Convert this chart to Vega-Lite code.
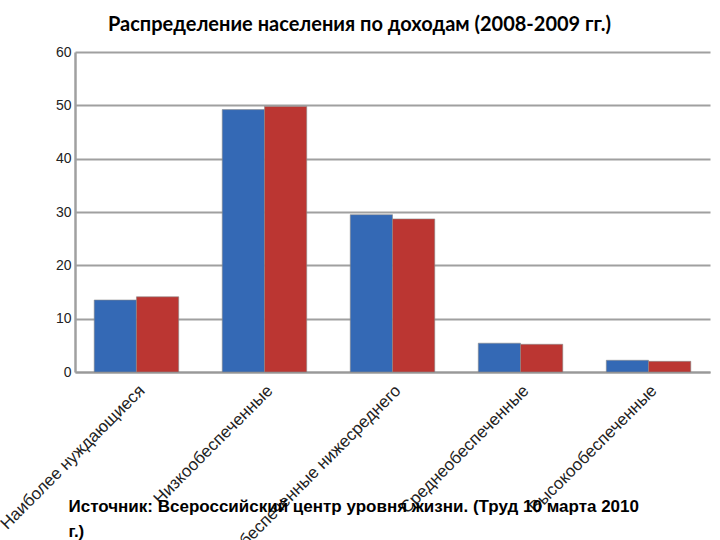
{
  "$schema": "https://vega.github.io/schema/vega-lite/v6.json",
  "autosize": {"type": "none"},
  "width": 635,
  "height": 320,
  "padding": {"left": 75, "top": 52, "right": 10, "bottom": 168},
  "background": "white",
  "title": {
    "text": "Распределение населения по доходам (2008-2009 гг.)",
    "font": "Lato",
    "fontSize": 20,
    "fontWeight": "bold",
    "color": "#000000",
    "anchor": "middle",
    "dx": -33,
    "offset": 10
  },
  "data": {
    "values": [
      {"group": "Наиболее нуждающиеся", "year": "2008", "value": 13.5},
      {"group": "Наиболее нуждающиеся", "year": "2009", "value": 14.1},
      {"group": "Низкообеспеченные", "year": "2008", "value": 49.2},
      {"group": "Низкообеспеченные", "year": "2009", "value": 49.8},
      {"group": "Обеспеченные нижесреднего", "year": "2008", "value": 29.5},
      {"group": "Обеспеченные нижесреднего", "year": "2009", "value": 28.7},
      {"group": "Среднеобеспеченные", "year": "2008", "value": 5.4},
      {"group": "Среднеобеспеченные", "year": "2009", "value": 5.2},
      {"group": "Высокообеспеченные", "year": "2008", "value": 2.2},
      {"group": "Высокообеспеченные", "year": "2009", "value": 2.0}
    ]
  },
  "mark": {"type": "bar", "stroke": "#8a8a8a", "strokeWidth": 0.6},
  "encoding": {
    "x": {
      "field": "group",
      "type": "nominal",
      "sort": null,
      "scale": {"paddingInner": 0.34, "paddingOuter": 0.15},
      "axis": {
        "title": ["Источник: Всероссийский центр уровня жизни.  (Труд   10 марта 2010", "г.)"],
        "titleFont": "Liberation Sans",
        "titleFontSize": 17,
        "titleFontWeight": "bold",
        "titleColor": "#000000",
        "titleAnchor": "start",
        "titleAlign": "left",
        "titleBaseline": "top",
        "titleX": -7,
        "titleY": 126,
        "titleLineHeight": 25,
        "labelAngle": -45,
        "labelFont": "Liberation Sans",
        "labelFontSize": 17,
        "labelColor": "#222222",
        "labelPadding": 10,
        "labelLimit": 300,
        "ticks": false,
        "domainColor": "#999999",
        "domainWidth": 2
      }
    },
    "xOffset": {"field": "year", "type": "nominal"},
    "y": {
      "field": "value",
      "type": "quantitative",
      "scale": {"domain": [0, 60]},
      "axis": {
        "title": null,
        "values": [0, 10, 20, 30, 40, 50, 60],
        "labelFont": "Liberation Sans",
        "labelFontSize": 14,
        "labelColor": "#222222",
        "labelPadding": 4,
        "gridColor": "#a0a0a0",
        "gridWidth": 2,
        "domainColor": "#a0a0a0",
        "domainWidth": 2.5,
        "ticks": false
      }
    },
    "color": {
      "field": "year",
      "type": "nominal",
      "scale": {"range": ["#3469b5", "#bb3632"]},
      "legend": null
    }
  },
  "config": {"view": {"stroke": null}}
}
